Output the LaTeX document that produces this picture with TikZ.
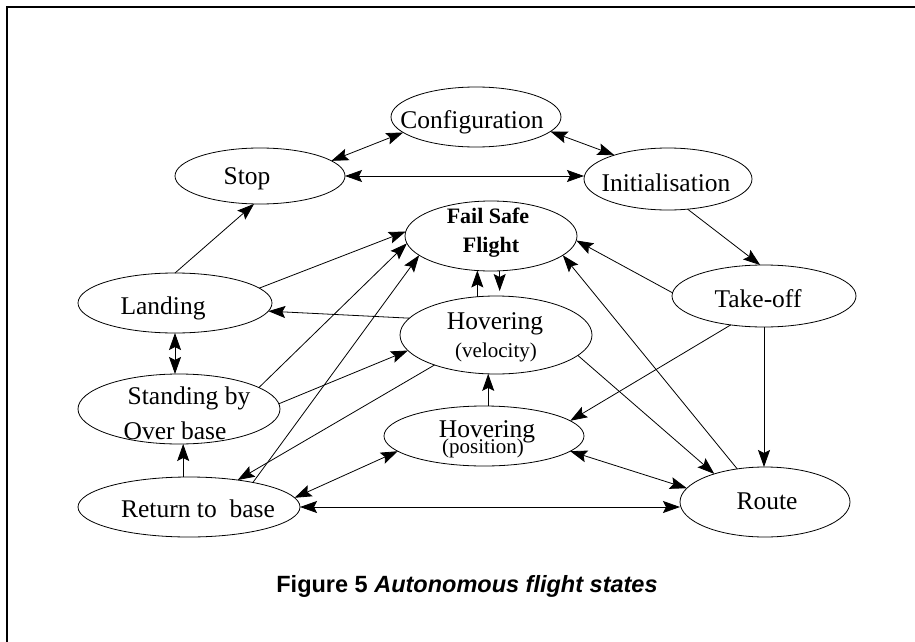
\documentclass[tikz,border=0pt]{standalone}
\usepackage{fontspec}
\setmainfont{Liberation Serif}
\newfontfamily\capfont{Liberation Sans}
\usetikzlibrary{arrows.meta,shapes.geometric}
\begin{document}
\begin{tikzpicture}[x=1pt,y=-1pt,
  st/.style={draw, ellipse, line width=0.8pt, inner sep=0pt, outer sep=0pt},
  lbl/.style={anchor=base, inner sep=0pt, font=\fontsize{25.5}{25.5}\selectfont},
  sml/.style={anchor=base, inner sep=0pt, font=\fontsize{21}{21}\selectfont},
  bld/.style={anchor=base, inner sep=0pt, font=\fontsize{22}{22}\selectfont\bfseries},
  tipA/.tip={Stealth[length=17pt,width=12pt,inset=3pt]},
  conn/.style={line width=0.8pt, -tipA},
  dconn/.style={line width=0.8pt, tipA-tipA},
]
\useasboundingbox (0,0) rectangle (915,642);
\draw[line width=2pt] (7,642) -- (7,7) -- (915,7);

% states
\node[st, minimum width=170pt, minimum height=60pt] (conf) at (476,117) {};
\node[st, minimum width=170pt, minimum height=56pt] (stop) at (260,176) {};
\node[st, minimum width=168pt, minimum height=62pt] (init) at (668,179) {};
\node[st, minimum width=172pt, minimum height=70pt] (fsf) at (491,236) {};
\node[st, minimum width=194pt, minimum height=60pt] (land) at (175,303) {};
\node[st, minimum width=202pt, minimum height=70pt] (stand) at (179,409) {};
\node[st, minimum width=222pt, minimum height=60pt] (ret) at (189,507) {};
\node[st, minimum width=192pt, minimum height=78pt] (hvel) at (496,335) {};
\node[st, minimum width=200pt, minimum height=60pt] (hpos) at (484,436) {};
\node[st, minimum width=184pt, minimum height=62pt] (take) at (764,296) {};
\node[st, minimum width=170pt, minimum height=70pt] (route) at (765,502) {};

% labels
\node[lbl] (conft) at (472,128) {Configuration};
\node[lbl] (stopt) at (247,184) {Stop};
\node[lbl] (initt) at (666,191) {Initialisation};
\node[bld] (fsft1) at (488,223) {Fail Safe};
\node[bld] (fsft2) at (491,252) {Flight};
\node[lbl] (landt) at (163,314) {Landing};
\node[lbl] (standt1) at (189,404) {Standing by};
\node[lbl] (standt2) at (175,439) {Over base};
\node[lbl] (rett) at (198,517) {Return to\ \ base};
\node[lbl] (hvelt1) at (495,329) {Hovering};
\node[sml] (hvelt2) at (496,357) {(velocity)};
\node[lbl] (hpost1) at (487,437) {Hovering};
\node[sml] (hpost2) at (483,453) {(position)};
\node[lbl] (taket) at (758,307) {Take-off};
\node[lbl] (routet) at (767,509) {Route};

% transitions
\draw[dconn] (stop.12) -- (conf.192);
\draw[dconn] (conf.-11) -- (init.156);
\draw[dconn] (stop.east) -- (stop.east -| init.west);
\draw[conn] (init.-57) -- (take.97);
\draw[conn] (land.north) -- (stop.-102);
\draw[conn] (land.10) -- (fsf.177);
\draw[conn] (stand.15) -- (fsf.185);
\draw[conn] (ret.21) -- (fsf.195);
\draw[conn] (hvel.116) -- (hvel.116 |- fsf.246);
\draw[conn, shorten >=5pt] (fsf.-76) -- (fsf.-76 |- hvel.84);
\draw[conn] (hvel.169) -- (land.-5);
\draw[conn] (stand.3) -- (hvel.190);
\draw[conn] (hvel.206) -- (ret.29);
\draw[conn] (hpos.82) -- (hpos.82 |- hvel.258);
\draw[conn] (take.221) -- (hpos.10);
\draw[conn] (take.178) -- (fsf.-3);
\draw[conn] (route.130) -- (fsf.-15);
\draw[conn] (hvel.-14) -- (route.151);
\draw[conn] (take.south) -- (take.south |- route.north);
\draw[dconn] (hpos.-10) -- (route.170);
\draw[dconn] (ret.east) -- (ret.east -| route.west);
\draw[dconn] (ret.5) -- (hpos.190);
\draw[dconn] (land.south) -- (land.south |- stand.north);
\draw[conn] (ret.101) -- (ret.101 |- stand.south);

% caption
\node[anchor=base, inner sep=0pt, font=\capfont\fontsize{23.5}{23.5}\selectfont\bfseries] (cap) at (467,592) {Figure 5 \textit{Autonomous flight states}};
\end{tikzpicture}
\end{document}
